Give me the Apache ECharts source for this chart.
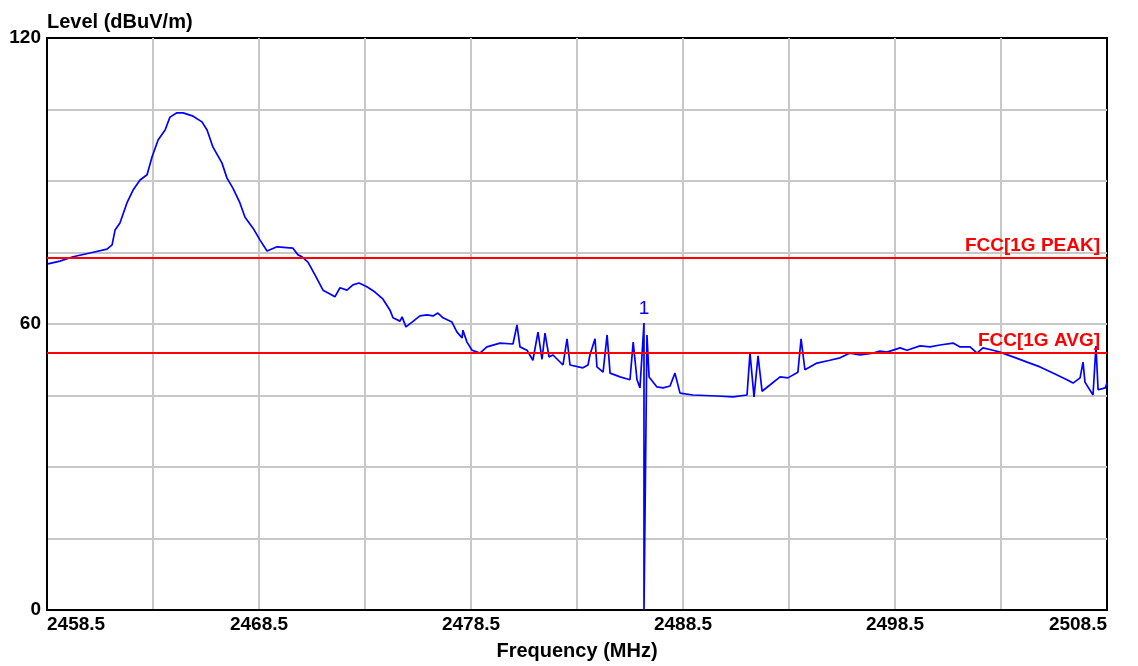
<!DOCTYPE html>
<html>
<head>
    <meta http-equiv="content-type" content="text/html;charset=utf-8">
    <script src="https://cdn.jsdelivr.net/npm/echarts@6/dist/echarts.min.js"></script>
    <style>
        html, body { margin: 0; padding: 0; background: #fff; }
        #chart { width: 1138px; height: 666px; }
    </style>
</head>
<body>
<div id="chart"></div>

<script type="text/javascript">
    // trace data
    var freq = [
        2458.55, 2459.11, 2459.73, 2460.53, 2461.33, 2461.57, 2461.71, 2461.94, 2462.27, 2462.56,
        2462.89, 2463.22, 2463.45, 2463.74, 2464.07, 2464.30, 2464.63, 2464.92, 2465.39, 2465.81,
        2466.05, 2466.33, 2466.75, 2466.99, 2467.27, 2467.60, 2467.84, 2468.22, 2468.55, 2468.88,
        2469.35, 2470.10, 2470.34, 2470.53, 2470.81, 2471.14, 2471.52, 2471.85, 2472.08, 2472.32,
        2472.65, 2472.93, 2473.22, 2473.59, 2473.97, 2474.35, 2474.68, 2474.82, 2475.15, 2475.25,
        2475.43, 2475.72, 2476.09, 2476.42, 2476.71, 2476.94, 2477.18, 2477.60, 2477.84, 2478.08,
        2478.12, 2478.31, 2478.55, 2478.92, 2479.25, 2479.87, 2480.48, 2480.67, 2480.81, 2481.14,
        2481.42, 2481.66, 2481.85, 2481.99, 2482.18, 2482.37, 2482.84, 2483.03, 2483.17, 2483.78,
        2484.02, 2484.11, 2484.35, 2484.44, 2484.73, 2484.92, 2485.06, 2485.53, 2486.00, 2486.15,
        2486.33, 2486.47, 2486.66, 2486.66, 2486.80, 2486.90, 2487.27, 2487.56, 2487.89, 2488.12,
        2488.36, 2488.97, 2490.10, 2490.86, 2491.52, 2491.66, 2491.85, 2492.04, 2492.23, 2492.60,
        2493.08, 2493.45, 2493.92, 2494.07, 2494.25, 2494.82, 2495.43, 2495.91, 2496.38, 2496.85,
        2497.46, 2497.79, 2498.12, 2498.74, 2499.07, 2499.68, 2500.15, 2500.62, 2501.24, 2501.57,
        2502.04, 2502.37, 2502.65, 2503.12, 2503.45, 2504.07, 2504.73, 2505.34, 2505.95, 2506.61,
        2506.90, 2507.23, 2507.37, 2507.46, 2507.84, 2507.98, 2508.08, 2508.42, 2508.50
    ];
    var level = [
        72.6, 73.2, 74.1, 74.9, 75.7, 76.6, 79.7, 81.2, 85.4, 88.1,
        90.2, 91.3, 95.0, 98.6, 100.7, 103.4, 104.3, 104.3, 103.6, 102.4,
        100.7, 97.1, 93.8, 90.6, 88.5, 85.4, 82.4, 80.1, 77.6, 75.3,
        76.2, 75.9, 74.5, 74.1, 73.0, 70.3, 67.1, 66.3, 65.7, 67.6,
        67.1, 68.2, 68.6, 67.8, 66.7, 65.2, 62.9, 61.3, 60.6, 61.5,
        59.4, 60.4, 61.7, 61.9, 61.7, 62.3, 61.3, 60.4, 58.3, 57.1,
        58.7, 56.2, 54.5, 53.9, 55.2, 56.0, 55.8, 59.8, 55.2, 54.5,
        52.4, 58.3, 52.6, 58.1, 53.1, 53.5, 51.4, 56.9, 51.4, 50.8,
        51.4, 53.5, 56.9, 51.0, 49.9, 57.7, 49.7, 48.9, 48.3, 56.2,
        48.3, 46.6, 60.2, 0, 57.7, 48.9, 46.8, 46.6, 47.0, 49.7,
        45.5, 45.1, 44.9, 44.7, 45.1, 53.9, 44.7, 53.3, 45.9, 47.2,
        48.9, 48.7, 49.9, 56.9, 50.4, 51.8, 52.4, 52.9, 53.9, 53.5,
        53.9, 54.3, 54.1, 55.0, 54.5, 55.4, 55.2, 55.6, 56.0, 55.2,
        55.2, 53.9, 55.0, 54.5, 54.1, 53.1, 52.0, 51.0, 49.7, 48.3,
        47.6, 48.7, 52.0, 47.8, 45.1, 55.4, 46.2, 46.6, 47.6
    ];
    var startFreq = 2458.5;
    var stopFreq = 2508.5;
    var limitNames = ['FCC[1G PEAK]', 'FCC[1G AVG]'];
    var limitValues = [74, 54];
    var markerFreq = 2486.66;
    var markerLevel = 60.2;

    var font = '"Liberation Sans", Arial, sans-serif';

    // x axis runs from 0 so the 5 MHz grid starts at the left edge
    var points = [];
    for (var i = 0; i < freq.length; i++) {
        points.push([+(freq[i] - startFreq).toFixed(2), level[i]]);
    }

    var limitLines = [];
    for (var k = 0; k < limitValues.length; k++) {
        limitLines.push({yAxis: limitValues[k], name: limitNames[k]});
    }

    var myChart = echarts.init(document.getElementById('chart'));
    var option = {
        animation: false,
        backgroundColor: '#fff',
        grid: {
            left: 47, right: 31, top: 38, bottom: 56,
            show: true, borderColor: '#000', borderWidth: 2, backgroundColor: '#fff'
        },
        xAxis: {
            type: 'value',
            min: 0,
            max: stopFreq - startFreq,
            interval: 5,
            name: 'Frequency (MHz)',
            nameLocation: 'middle',
            nameGap: 31,
            nameTextStyle: {fontFamily: font, fontWeight: 'bold', fontSize: 20, color: '#000'},
            axisLine: {lineStyle: {color: '#000', width: 2}},
            axisTick: {show: false},
            axisLabel: {
                fontFamily: font, fontWeight: 'bold', fontSize: 19, color: '#000', margin: 5,
                alignMinLabel: 'left', alignMaxLabel: 'right',
                formatter: function (v) {
                    return Math.round(v) % 10 === 0 ? (v + startFreq).toFixed(1) : '';
                }
            },
            splitLine: {show: true, showMinLine: false, showMaxLine: false,
                lineStyle: {color: '#c8c8c8', width: 2}}
        },
        yAxis: {
            type: 'value',
            min: 0, max: 120, interval: 15,
            name: 'Level (dBuV/m)',
            nameLocation: 'end',
            nameGap: 6,
            nameTextStyle: {fontFamily: font, fontWeight: 'bold', fontSize: 20, color: '#000', align: 'left'},
            axisLine: {show: true, lineStyle: {color: '#000', width: 2}},
            axisTick: {show: false},
            axisLabel: {
                fontFamily: font, fontWeight: 'bold', fontSize: 19, color: '#000', margin: 6,
                padding: [6, 0, 0, 0],
                formatter: function (v) { return v % 60 === 0 ? v : ''; }
            },
            splitLine: {show: true, showMinLine: false, showMaxLine: false,
                lineStyle: {color: '#c8c8c8', width: 2}}
        },
        series: [{
            type: 'line',
            data: points,
            showSymbol: false,
            lineStyle: {color: '#0000ff', width: 1.7},
            itemStyle: {color: '#0000ff'},
            markLine: {
                silent: true,
                symbol: 'none',
                lineStyle: {color: '#ff0000', width: 2, type: 'solid'},
                label: {
                    position: 'insideEndTop',
                    formatter: '{b}',
                    fontFamily: font, fontWeight: 'bold', fontSize: 19, color: '#ff0000',
                    distance: [7, 2]
                },
                data: limitLines
            },
            markPoint: {
                symbol: 'circle',
                symbolSize: 1,
                itemStyle: {color: 'rgba(0,0,0,0)'},
                label: {
                    show: true, position: 'top', distance: 4,
                    formatter: '1', fontFamily: font, fontSize: 19, color: '#0000ff'
                },
                data: [{coord: [markerFreq - startFreq, markerLevel]}]
            }
        }]
    };
    myChart.setOption(option);
</script>
</body>
</html>
